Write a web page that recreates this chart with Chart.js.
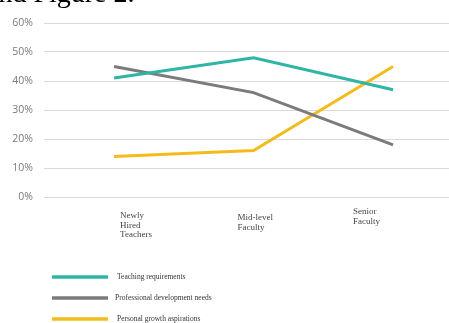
<!DOCTYPE html>
<html>
<head>
<meta charset="utf-8">
<script src="https://cdn.jsdelivr.net/npm/chart.js@4.4.1/dist/chart.umd.min.js"></script>
<style>
    html, body {margin: 0; padding: 0; background: #fff;}
    #wrap {position: relative; width: 449px; height: 323px; overflow: hidden;}
    #title {position: absolute; left: -14px; top: -23px; font: 28px "Liberation Serif", serif; color: #000; white-space: nowrap;}
    canvas {position: absolute; left: 0; top: 0;}
</style>
</head>
<body>
<div id="wrap">
    <canvas id="chart" width="449" height="323"></canvas>
    <div id="title">and Figure 2.</div>
</div>
<script>
const categories = [['Newly', 'Hired', 'Teachers'], ['Mid-level', 'Faculty'], ['Senior', 'Faculty']];
const teaching = [41, 48, 37];
const professional = [45, 36, 18];
const personal = [14, 16, 45];
const seriesNames = ['Teaching requirements', 'Professional development needs', 'Personal growth aspirations'];
const seriesColors = ['#2fb5a3', '#7b7b7b', '#f4bb1c'];

// label placement, the source puts them a bit off the points
const labelShiftX = [6, -16, -40];
const labelShiftY = [14, 16, 10];

const toPoints = (values) => values.map((v, i) => ({x: i, y: v}));

const categoryLabels = {
    id: 'categoryLabels',
    afterDraw(chart) {
        const ctx = chart.ctx;
        const xScale = chart.scales.x;
        const bottom = chart.chartArea.bottom;
        ctx.save();
        ctx.font = '9px "Liberation Serif", serif';
        ctx.fillStyle = '#444';
        ctx.textAlign = 'left';
        ctx.textBaseline = 'top';
        categories.forEach((lines, i) => {
            const x = xScale.getPixelForValue(i) + labelShiftX[i];
            lines.forEach((line, j) => {
                ctx.fillText(line, x, bottom + labelShiftY[i] + j * 9.7);
            });
        });
        ctx.restore();
    }
};

const sideLegend = {
    id: 'sideLegend',
    afterDraw(chart) {
        const ctx = chart.ctx;
        ctx.save();
        ctx.font = '7.5px "Liberation Serif", serif';
        ctx.textBaseline = 'middle';
        ctx.fillStyle = '#333';
        chart.data.datasets.forEach((ds, i) => {
            const y = 277 + i * 21;
            ctx.strokeStyle = ds.borderColor;
            ctx.lineWidth = 3.5;
            ctx.beginPath();
            ctx.moveTo(52, y);
            ctx.lineTo(108, y);
            ctx.stroke();
            ctx.fillText(ds.label, i === 1 ? 115 : 117, y);
        });
        ctx.restore();
    }
};

new Chart(document.getElementById('chart'), {
    type: 'line',
    plugins: [categoryLabels, sideLegend],
    data: {
        datasets: [
            {label: seriesNames[0], data: toPoints(teaching), borderColor: seriesColors[0]},
            {label: seriesNames[1], data: toPoints(professional), borderColor: seriesColors[1]},
            {label: seriesNames[2], data: toPoints(personal), borderColor: seriesColors[2]}
        ].map(ds => Object.assign(ds, {borderWidth: 3, pointRadius: 0, tension: 0, fill: false}))
    },
    options: {
        responsive: false,
        animation: false,
        layout: {padding: {top: 23, right: 0, bottom: 126, left: 0}},
        plugins: {legend: {display: false}, tooltip: {enabled: false}},
        scales: {
            x: {
                type: 'linear',
                min: -0.502,
                max: 2.401,
                display: false
            },
            y: {
                min: 0,
                max: 60,
                afterFit(scale) { scale.width = 44; },
                border: {display: false},
                grid: {color: '#d9d9d9', lineWidth: 1, drawTicks: false},
                ticks: {
                    stepSize: 10,
                    padding: 11,
                    color: '#7a7a7a',
                    font: {family: '"Open Sans", sans-serif', size: 10.5},
                    callback: v => v + '%'
                }
            }
        }
    }
});
</script>
</body>
</html>
